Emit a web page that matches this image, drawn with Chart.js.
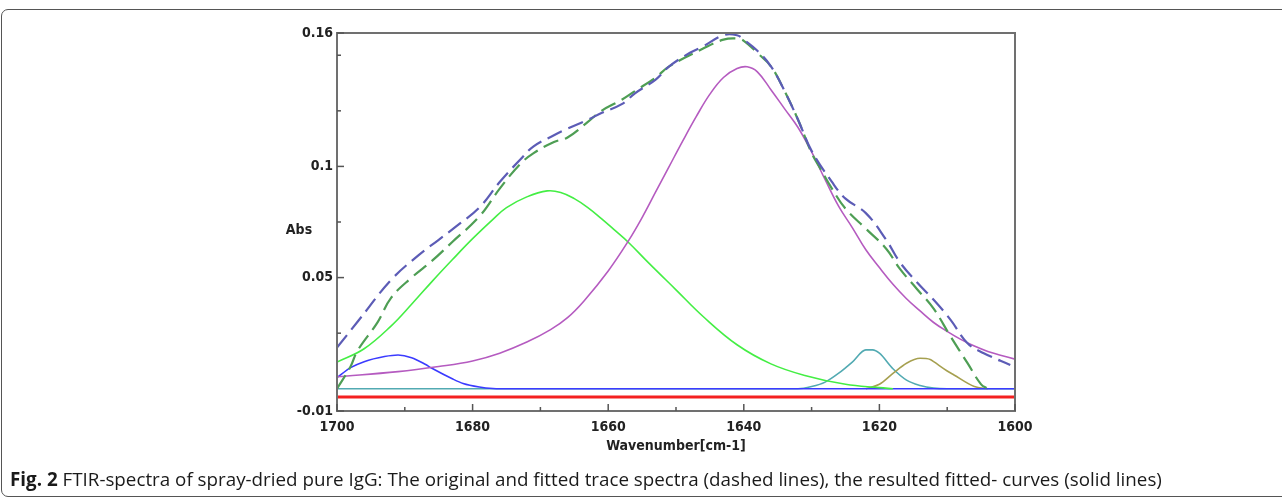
<!DOCTYPE html>
<html>
<head>
<meta charset="utf-8">
<script src="https://cdn.jsdelivr.net/npm/chart.js@4.4.1/dist/chart.umd.min.js"></script>
<style>
  html, body { margin: 0; padding: 0; background: #fff; overflow: hidden; }
  #wrap { position: relative; width: 1282px; height: 499px; }
  #frame { position: absolute; left: 1px; top: 9px; width: 1290px; height: 488px;
           border: 1px solid #555; border-radius: 7px; box-sizing: border-box; }
  #c { position: absolute; left: 0; top: 0; }
  #caption { position: absolute; left: 10px; top: 466px; font-family: 'Open Sans', 'Noto Sans', sans-serif;
             font-size: 18.8px; line-height: 26px; color: #1a1a1a; white-space: nowrap; }
  #caption b { font-weight: 700; }
</style>
</head>
<body>
<div id="wrap">
  <div id="frame"></div>
  <canvas id="c" width="1282" height="499"></canvas>
  <div id="caption"><b>Fig. 2</b> FTIR-spectra of spray-dried pure IgG: The original and fitted trace spectra (dashed lines), the resulted fitted- curves (solid lines)</div>
</div>
<script>
// ---- Data (wavenumber in cm-1, absorbance) ----
const originalX = [1700, 1697, 1692, 1688, 1685, 1682, 1679, 1676, 1673, 1671, 1668, 1666, 1663, 1661, 1658, 1656, 1653, 1651, 1648, 1646, 1643, 1641, 1640, 1638, 1636, 1634, 1632, 1630, 1627, 1625, 1622, 1619, 1617, 1614.5, 1612, 1609.5, 1607, 1604.6, 1600.7];
const originalY = [0.0185, 0.030, 0.049, 0.060, 0.067, 0.074, 0.0815, 0.093, 0.103, 0.109, 0.114, 0.117, 0.121, 0.124, 0.128, 0.133, 0.139, 0.145, 0.151, 0.154, 0.159, 0.159, 0.157, 0.152, 0.145, 0.134, 0.121, 0.107, 0.093, 0.0855, 0.079, 0.067, 0.057, 0.048, 0.040, 0.031, 0.0205, 0.016, 0.0107];

const fittedX = [1700, 1698, 1697, 1694, 1692, 1689, 1686, 1683, 1679, 1676, 1673, 1671, 1668, 1666, 1663, 1661, 1658, 1656, 1653, 1651, 1646, 1643, 1641, 1640, 1638, 1636, 1634, 1632, 1630, 1628.7, 1627, 1625, 1622, 1619, 1617, 1614.5, 1612, 1609.5, 1607, 1605, 1604];
const fittedY = [0.000, 0.010, 0.017, 0.030, 0.041, 0.050, 0.0575, 0.066, 0.0775, 0.090, 0.101, 0.106, 0.111, 0.113, 0.120, 0.125, 0.130, 0.134, 0.140, 0.145, 0.153, 0.157, 0.1575, 0.1565, 0.151, 0.145, 0.134, 0.121, 0.106, 0.099, 0.090, 0.081, 0.072, 0.063, 0.054, 0.045, 0.036, 0.0235, 0.0115, 0.002, 0.000];

const band1668X = [1700, 1696, 1692, 1689, 1686, 1683, 1680, 1677, 1675, 1672, 1669, 1667, 1665, 1663, 1661, 1659, 1657, 1654, 1650, 1646, 1641, 1636, 1631, 1625, 1620, 1618];
const band1668Y = [0.0120, 0.0180, 0.0283, 0.0380, 0.0482, 0.0580, 0.0675, 0.0762, 0.0815, 0.0863, 0.089, 0.0883, 0.0855, 0.0815, 0.0765, 0.0712, 0.0658, 0.0565, 0.0445, 0.0325, 0.0198, 0.0112, 0.0060, 0.0020, 0.0005, 0.000];

const band1640X = [1700, 1691, 1685, 1680, 1676, 1672, 1668.5, 1666, 1663.6, 1660, 1657, 1655, 1653, 1651, 1649, 1647, 1645, 1643, 1641, 1639.5, 1638, 1636, 1634, 1632, 1630, 1628, 1626, 1624, 1622, 1620, 1618, 1616, 1614, 1612, 1610, 1608, 1606, 1604, 1602, 1600];
const band1640Y = [0.0054, 0.0077, 0.0100, 0.0125, 0.016, 0.021, 0.0266, 0.032, 0.0394, 0.053, 0.0666, 0.077, 0.0885, 0.100, 0.1115, 0.1225, 0.1325, 0.1400, 0.1440, 0.1448, 0.1425, 0.1345, 0.126, 0.1175, 0.1065, 0.094, 0.082, 0.0725, 0.0625, 0.0545, 0.047, 0.0405, 0.035, 0.0298, 0.0258, 0.0222, 0.0192, 0.0168, 0.015, 0.0133];

const band1691X = [1700, 1698, 1696, 1693, 1691, 1689, 1687, 1686, 1683, 1681.4, 1679, 1677, 1676, 1600];
const band1691Y = [0.005, 0.0095, 0.0122, 0.0145, 0.0152, 0.014, 0.011, 0.0092, 0.0045, 0.0024, 0.0008, 0.0001, 0.000, 0.000];

const band1621X = [1700, 1634, 1632, 1630, 1628, 1626, 1624, 1622, 1621, 1620, 1618, 1616, 1614, 1612, 1610, 1600];
const band1621Y = [0.000, 0.000, 0.000, 0.001, 0.003, 0.007, 0.012, 0.0175, 0.0175, 0.016, 0.009, 0.0039, 0.0015, 0.0003, 0.000, 0.000];

const band1614X = [1622, 1620, 1618, 1616, 1614, 1612.5, 1612, 1610, 1609, 1606, 1604];
const band1614Y = [0.000, 0.002, 0.0069, 0.0115, 0.0137, 0.0132, 0.0122, 0.008, 0.0062, 0.001, 0.000];

const redLineX = [1700, 1600];
const redLineY = [-0.0037, -0.0037];

// ---- Axis ticks ----
const xMajorTicks = [1700, 1680, 1660, 1640, 1620, 1600];
const xMinorTicks = [1690, 1670, 1650, 1630, 1610];
const yTickValues = [-0.01, 0.05, 0.1, 0.16];
const yTickLabels = ['-0.01', '0.05', '0.1', '0.16'];
const yMinorTicks = [0.025, 0.075, 0.125, 0.15];

function pts(xs, ys) { return xs.map((v, i) => ({ x: v, y: ys[i] })); }

const FONT_FAMILY = "'Liberation Sans Narrow', 'DejaVu Sans Condensed', sans-serif";
const tickFont = { family: FONT_FAMILY, size: 14, weight: 'bold' };

const decor = {
  id: 'decor',
  afterDatasetsDraw(chart) {
    const { ctx, chartArea: a, scales: { x, y } } = chart;
    ctx.save();
    ctx.strokeStyle = '#707070';
    ctx.lineWidth = 2;
    ctx.strokeRect(a.left, a.top, a.right - a.left, a.bottom - a.top);
    ctx.lineWidth = 1.5;
    ctx.strokeStyle = '#555';
    const seg = (x1, y1, x2, y2) => { ctx.beginPath(); ctx.moveTo(x1, y1); ctx.lineTo(x2, y2); ctx.stroke(); };
    xMajorTicks.forEach(v => { const p = x.getPixelForValue(v); seg(p, a.bottom, p, a.bottom - 7); });
    xMinorTicks.forEach(v => { const p = x.getPixelForValue(v); seg(p, a.bottom, p, a.bottom - 4); });
    yTickValues.forEach(v => { const p = y.getPixelForValue(v); seg(a.left, p, a.left + 7, p); });
    yMinorTicks.forEach(v => { const p = y.getPixelForValue(v); seg(a.left, p, a.left + 4, p); });
    ctx.fillStyle = '#222';
    ctx.font = "bold 14px " + FONT_FAMILY;
    ctx.textAlign = 'center';
    ctx.textBaseline = 'middle';
    ctx.fillText('Abs', 299, 230);
    ctx.restore();
  }
};

const solid = (label, xs, ys, color, w, mono) => ({
  label, data: pts(xs, ys), borderColor: color, borderWidth: w || 1.6,
  pointRadius: 0, fill: false,
  cubicInterpolationMode: mono ? 'monotone' : 'default', tension: mono ? 0 : 0.4
});
const dashed = (label, xs, ys, color) => ({
  label, data: pts(xs, ys), borderColor: color, borderWidth: 2.2, borderDash: [16, 7],
  pointRadius: 0, fill: false, tension: 0.4
});

new Chart(document.getElementById('c'), {
  type: 'line',
  data: {
    datasets: [
      dashed('Original', originalX, originalY, '#5c5cb6'),
      dashed('Fitted', fittedX, fittedY, '#4e9e54'),
      solid('1640 band', band1640X, band1640Y, '#b55bc0', 1.6, false),
      solid('1668 band', band1668X, band1668Y, '#44ee44', 1.6, false),
      solid('1691 band', band1691X, band1691Y, '#3b3bff', 1.6, true),
      solid('1614 band', band1614X, band1614Y, '#a6a050', 1.6, true),
      solid('1621 band', band1621X, band1621Y, '#52aab2', 1.6, true),
      solid('Baseline', redLineX, redLineY, '#f42020', 3.2, true)
    ]
  },
  options: {
    responsive: false,
    animation: false,
    events: [],
    layout: { padding: { left: 0, top: 33, right: 267, bottom: 0 } },
    plugins: { legend: { display: false }, tooltip: { enabled: false } },
    scales: {
      x: {
        type: 'linear', min: 1600, max: 1700, reverse: true,
        afterFit: s => { s.height = 88; },
        afterBuildTicks: s => { s.ticks = xMajorTicks.map(v => ({ value: v })); },
        grid: { display: false, drawTicks: false },
        border: { display: false },
        ticks: { autoSkip: false, maxRotation: 0, padding: 8, color: '#222', font: tickFont, callback: v => String(v) },
        title: { display: true, text: 'Wavenumber[cm-1]', color: '#222', font: tickFont, padding: { top: 0, bottom: 44 } }
      },
      y: {
        type: 'linear', min: -0.01, max: 0.16,
        afterFit: s => { s.width = 337; },
        afterBuildTicks: s => { s.ticks = yTickValues.map(v => ({ value: v })); },
        grid: { display: false, drawTicks: false },
        border: { display: false },
        ticks: { autoSkip: false, padding: 4, color: '#222', font: tickFont,
                 callback: v => { const i = yTickValues.indexOf(v); return i >= 0 ? yTickLabels[i] : ''; } }
      }
    }
  },
  plugins: [decor]
});
</script>
</body>
</html>
